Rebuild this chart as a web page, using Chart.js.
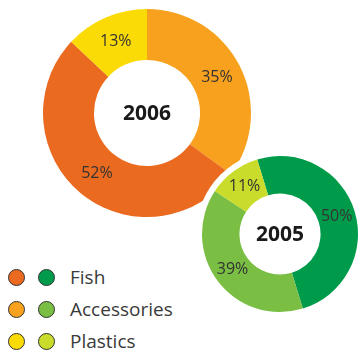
<!DOCTYPE html>
<html>
<head>
<meta charset="utf-8">
<script src="https://cdn.jsdelivr.net/npm/chart.js@4"></script>
<style>
  html, body { margin: 0; padding: 0; background: #fff; overflow: hidden; }
  body { width: 358px; height: 352px; position: relative; font-family: "Open Sans", sans-serif; }
  canvas { position: absolute; }
  #chart2006 { left: 43px; top: 9px; }
  #chart2005 { left: 196px; top: 150px; }
  #legend { position: absolute; left: 8px; top: 261px; }
  .row { height: 32px; display: flex; align-items: center; }
  .dot { width: 15px; height: 15px; border-radius: 50%; border: 1px solid #333; margin-right: 13px; }
  .row span { font-size: 19px; color: #3a3a3a; margin-left: 2px; }
</style>
</head>
<body>
<canvas id="chart2006" width="208" height="208"></canvas>
<canvas id="chart2005" width="168" height="168"></canvas>
<div id="legend"></div>
<script>
const categories = ['Fish', 'Accessories', 'Plastics'];
const values2006 = [52, 35, 13];
const values2005 = [50, 39, 11];
const colors2006 = ['#EA6A20', '#F7A11F', '#FADB05'];
const colors2005 = ['#009B4A', '#7ABF44', '#C9DC2B'];

// order in which slices go round clockwise
const order2006 = [1, 0, 2];
const order2005 = [0, 1, 2];

const pick = (arr, order) => order.map(i => arr[i]);

// white halo behind the doughnut, so it cuts into whatever sits underneath
const haloPlugin = {
    id: 'halo',
    beforeDatasetsDraw(chart, args, opts) {
        if (!opts.width) return;
        const arc = chart.getDatasetMeta(0).data[0];
        const ctx = chart.ctx;
        ctx.save();
        ctx.beginPath();
        ctx.arc(arc.x, arc.y, arc.outerRadius + opts.width, 0, Math.PI * 2);
        ctx.fillStyle = '#fff';
        ctx.fill();
        ctx.restore();
    }
};

// percentage in each slice plus the year in the hole
const labelPlugin = {
    id: 'sliceLabels',
    afterDatasetsDraw(chart, args, opts) {
        const ctx = chart.ctx;
        const meta = chart.getDatasetMeta(0);
        const values = chart.data.datasets[0].data;
        ctx.save();
        ctx.textAlign = 'center';
        ctx.textBaseline = 'middle';
        ctx.fillStyle = '#333';
        ctx.font = '16px "Open Sans"';
        meta.data.forEach((arc, i) => {
            const p = arc.getCenterPoint();
            ctx.fillText(values[i] + '%', p.x, p.y);
        });
        const c = meta.data[0];
        ctx.fillStyle = '#1a1a1a';
        ctx.font = 'bold 21px "Open Sans"';
        ctx.fillText(opts.title, c.x, c.y + 1);
        ctx.restore();
    }
};

function makeDoughnut(id, title, values, colors, order, rotation, cutout, halo) {
    return new Chart(document.getElementById(id), {
        type: 'doughnut',
        data: {
            labels: pick(categories, order),
            datasets: [{
                data: pick(values, order),
                backgroundColor: pick(colors, order),
                borderWidth: 0
            }]
        },
        options: {
            responsive: false,
            animation: false,
            rotation: rotation,
            cutout: cutout,
            layout: { padding: halo },
            plugins: {
                legend: { display: false },
                tooltip: { enabled: false },
                halo: { width: halo },
                sliceLabels: { title: title }
            }
        },
        plugins: [haloPlugin, labelPlugin]
    });
}

makeDoughnut('chart2006', '2006', values2006, colors2006, order2006, 0, '51%', 0);
makeDoughnut('chart2005', '2005', values2005, colors2005, order2005, -17, '52%', 6);

// legend: one dot per year, then the category name
const legend = document.getElementById('legend');
categories.forEach((name, i) => {
    const row = document.createElement('div');
    row.className = 'row';
    [colors2006[i], colors2005[i]].forEach(col => {
        const dot = document.createElement('div');
        dot.className = 'dot';
        dot.style.background = col;
        row.appendChild(dot);
    });
    const label = document.createElement('span');
    label.textContent = name;
    row.appendChild(label);
    legend.appendChild(row);
});
</script>
</body>
</html>
